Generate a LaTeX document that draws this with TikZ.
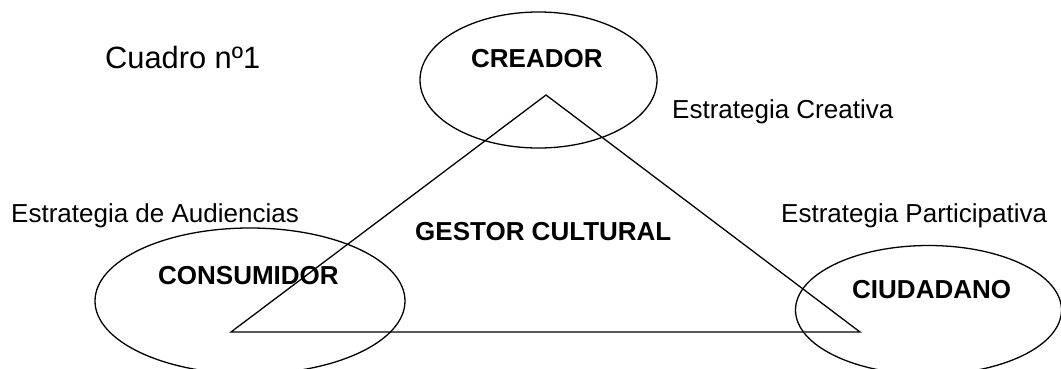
\documentclass[tikz,border=0pt]{standalone}
\usepackage{fontspec}
\setmainfont{Liberation Sans}
\usetikzlibrary{shapes.geometric}
\tikzset{
  oval/.style={draw, ellipse, line width=1.3pt, inner sep=0pt},
  lbl/.style={anchor=base west, inner sep=0pt, font=\fontsize{26}{30}\selectfont},
  blbl/.style={anchor=base west, inner sep=0pt, font=\fontsize{26}{30}\selectfont\bfseries},
  edge/.style={line width=1.3pt, line join=miter}
}
\begin{document}
\begin{tikzpicture}[x=1pt,y=-1pt]
\useasboundingbox (0,0) rectangle (1061,368);
% ellipses
\node[oval, minimum width=237, minimum height=136] (creador) at (538.5,80) {};
\node[oval, minimum width=310, minimum height=146] (consumidor) at (250,301) {};
\node[oval, minimum width=266, minimum height=129] (ciudadano) at (928.5,310) {};
% triangle
\coordinate (top) at (546,95);
\coordinate (left) at (231,332);
\coordinate (right) at (860,332);
\draw[edge] (top) -- (left) -- (right) -- cycle;
% texts
\node[lbl, font=\fontsize{30.8}{34}\selectfont] (cuadro) at (105,68) {Cuadro nº1};
\node[blbl] (tcreador) at (471,67) {CREADOR};
\node[lbl] (ecre) at (672,118) {Estrategia Creativa};
\node[lbl] (eaud) at (11,222) {Estrategia de Audiencias};
\node[lbl] (epar) at (781,222) {Estrategia Participativa};
\node[blbl] (gestor) at (415,240) {GESTOR CULTURAL};
\node[blbl] (tconsumidor) at (158,284) {CONSUMIDOR};
\node[blbl] (tciudadano) at (852,298) {CIUDADANO};
\end{tikzpicture}
\end{document}
